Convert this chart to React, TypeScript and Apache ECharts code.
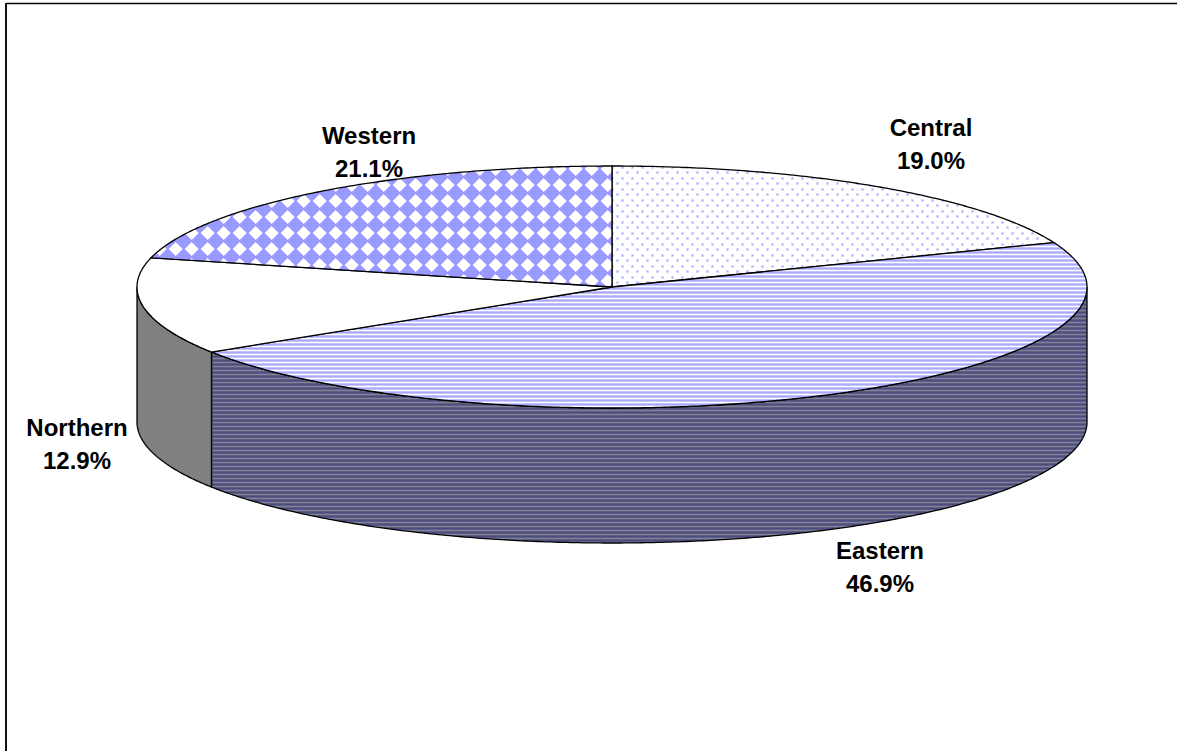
import React, { useEffect, useRef } from "react";
import * as echarts from "echarts";

const categories = ["Central", "Eastern", "Northern", "Western"];
const shares = [19.0, 46.9, 12.9, 21.1];
const labelSpots = [
  [931, 144],
  [880, 567],
  [77, 444],
  [369, 152],
];

const CX = 612;
const CY = 287;
const RX = 475;
const RY = 121;
const DEPTH = 135;

function tile(w: number, h: number, draw: (c: CanvasRenderingContext2D) => void) {
  const cv = document.createElement("canvas");
  cv.width = w;
  cv.height = h;
  const c = cv.getContext("2d") as CanvasRenderingContext2D;
  draw(c);
  return { image: cv.toDataURL(), repeat: "repeat", imageWidth: w, imageHeight: h };
}

function stripes(a: string, b: string, edge: string) {
  return tile(4, 4, (c) => {
    c.fillStyle = a;
    c.fillRect(0, 0, 4, 4);
    c.fillStyle = b;
    c.fillRect(0, 0, 4, 1);
    c.fillStyle = edge;
    c.fillRect(0, 1, 4, 1);
    c.fillRect(0, 3, 4, 1);
  });
}

function dots() {
  return tile(10, 11, (c) => {
    c.fillStyle = "#ffffff";
    c.fillRect(0, 0, 10, 11);
    const spots = [
      [2, 2],
      [7, 7],
    ];
    for (const [x, y] of spots) {
      c.fillStyle = "#d9d9ff";
      c.fillRect(x - 1, y - 1, 3, 3);
      c.fillStyle = "#9f9fff";
      c.fillRect(x, y, 1, 1);
    }
  });
}

function diamonds() {
  return tile(16, 16, (c) => {
    c.fillStyle = "#9999ff";
    c.fillRect(0, 0, 16, 16);
    c.fillStyle = "#ffffff";
    const x = 15.7;
    const y = 9;
    const R = 7;
    for (const dx of [-16, 0, 16]) {
      for (const dy of [-16, 0, 16]) {
        c.beginPath();
        c.moveTo(x + dx, y + dy - R);
        c.lineTo(x + dx + R, y + dy);
        c.lineTo(x + dx, y + dy + R);
        c.lineTo(x + dx - R, y + dy);
        c.closePath();
        c.fill();
      }
    }
  });
}

function rimPoint(theta: number, drop = 0): number[] {
  return [CX + RX * Math.sin(theta), CY - RY * Math.cos(theta) + drop];
}

function arcPoints(from: number, to: number, drop = 0): number[][] {
  const n = Math.max(2, Math.ceil((Math.abs(to - from) * 180) / Math.PI / 0.5));
  const pts: number[][] = [];
  for (let i = 0; i <= n; i++) pts.push(rimPoint(from + ((to - from) * i) / n, drop));
  return pts;
}

export default function App() {
  const ref = useRef<HTMLDivElement>(null);

  useEffect(() => {
    document.body.style.margin = "0";
    const chart = echarts.init(ref.current as HTMLDivElement, undefined, { renderer: "svg" });
    const total = shares.reduce((a, b) => a + b, 0);
    const topFills: any[] = [
      dots(),
      stripes("#ffffff", "#a9a9ff", "#c4c4ff"),
      "#ffffff",
      diamonds(),
    ];
    const sideFills: any[] = ["#808080", stripes("#828296", "#4c4c80", "#5e5e85"), "#808080", "#808080"];

    const renderItem = (params: any, api: any) => {
      const i = params.dataIndex;
      const value = api.value(1) as number;
      const before = shares.slice(0, i).reduce((a, b) => a + b, 0);
      const start = (before / total) * 2 * Math.PI;
      const end = ((before + value) / total) * 2 * Math.PI;
      const children: any[] = [];
      const sFrom = Math.max(start, Math.PI / 2);
      const sTo = Math.min(end, (3 * Math.PI) / 2);
      if (sTo > sFrom) {
        const upper = arcPoints(sFrom, sTo);
        const lower = arcPoints(sTo, sFrom, DEPTH);
        children.push({
          type: "polygon",
          shape: { points: upper.concat(lower) },
          style: { fill: sideFills[i], stroke: "#000000", lineWidth: 1.3 },
        });
      }
      children.push({
        type: "polygon",
        shape: { points: [[CX, CY]].concat(arcPoints(start, end)) },
        style: { fill: topFills[i], stroke: "#000000", lineWidth: 1.3 },
      });
      return { type: "group", children };
    };

    chart.setOption({
      animation: false,
      backgroundColor: "#ffffff",
      tooltip: { show: false },
      graphic: [
        {
          type: "line",
          z: 50,
          shape: { x1: 6, y1: 3.5, x2: 1177, y2: 3.5 },
          style: { stroke: "#000000", lineWidth: 1.5 },
        },
        {
          type: "line",
          z: 50,
          shape: { x1: 6, y1: 3, x2: 6, y2: 751 },
          style: { stroke: "#111111", lineWidth: 2 },
        },
        ...categories.map((name, i) => ({
          type: "text",
          z: 60,
          x: labelSpots[i][0],
          y: labelSpots[i][1],
          style: {
            text: `${name}\n${shares[i].toFixed(1)}%`,
            fill: "#000000",
            font: 'bold 24px "Liberation Sans", Arial, sans-serif',
            lineHeight: 33,
            align: "center",
            verticalAlign: "middle",
          },
        })),
      ],
      series: [
        {
          type: "custom",
          coordinateSystem: "none",
          silent: true,
          renderItem,
          data: categories.map((name, i) => ({ name, value: [i, shares[i]] })),
        },
      ],
    });
    return () => chart.dispose();
  }, []);

  return <div ref={ref} style={{ width: 1177, height: 751 }} />;
}
